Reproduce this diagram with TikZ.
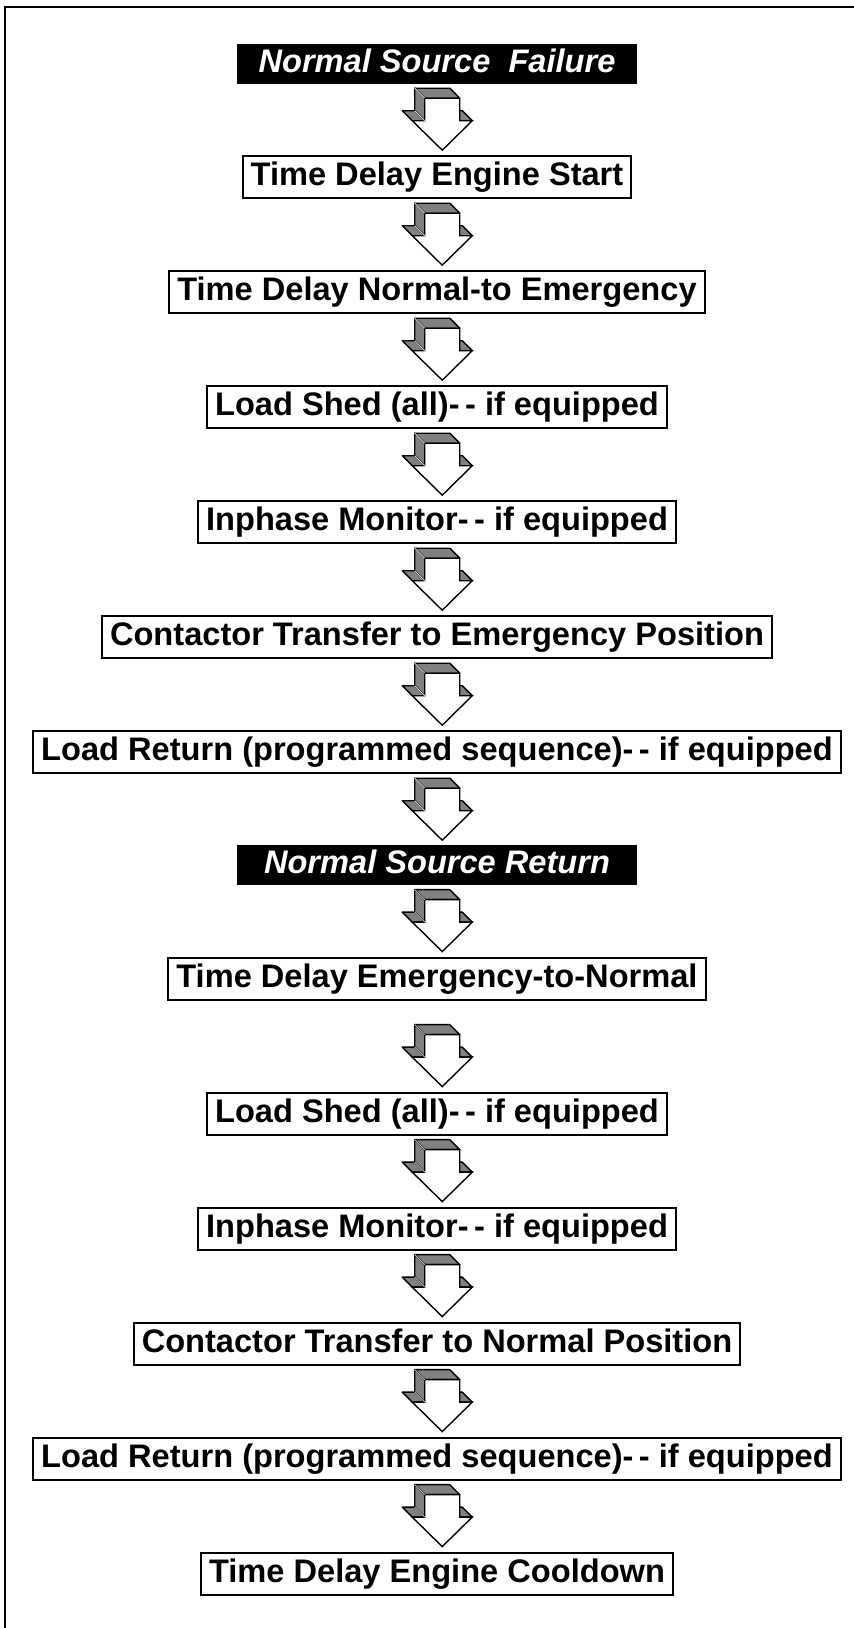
\documentclass[tikz,border=0pt]{standalone}
\usepackage{fontspec}
\setmainfont{Liberation Sans}
\usetikzlibrary{positioning}
\tikzset{
  arrowside/.style={draw=black,fill=gray,line width=1.4pt,line join=round},
  arrowfront/.style={draw=black,fill=white,line width=1.4pt,line join=miter},
  flowarrow/.pic={
    \draw[arrowside] (-17.5,52) -- (17.5,52) -- (7.5,62) -- (-27.5,62) -- cycle;
    \draw[arrowside] (-17.5,52) -- (-17.5,29.5) -- (-27.5,39.5) -- (-27.5,62) -- cycle;
    \draw[arrowside] (-17.5,29.5) -- (-30,29.5) -- (-40,39.5) -- (-27.5,39.5) -- cycle;
    \draw[arrowside] (17.5,29.5) -- (30,29.5) -- (20,39.5) -- (7.5,39.5) -- cycle;
    \draw[arrowfront] (-17.5,52) -- (17.5,52) -- (17.5,29.5) -- (30,29.5) -- (0,0)
      -- (-30,29.5) -- (-17.5,29.5) -- cycle;
    \draw[gray!25,line width=0.8pt] (-17.5,52) -- (-27.5,62) (-17.5,29.5) -- (-27.5,39.5);
  }
}
\begin{document}
\begin{tikzpicture}[x=1pt,y=1pt,
  node distance=71pt,
  every node/.style={font=\fontsize{32.6}{36}\selectfont\bfseries},
  stage/.style={draw,line width=2pt,inner xsep=8pt,inner ysep=3pt,
    minimum height=42pt,text height=24pt,text depth=7pt},
  event/.style={fill=black,text=white,font=\fontsize{32.6}{36}\selectfont\bfseries\itshape,
    minimum width=400pt,minimum height=40pt,inner ysep=3pt,text height=24pt,text depth=7pt}]
\useasboundingbox (0,0) rectangle (854,-1628);
% outer frame (open at right and bottom)
\draw[line width=2.5pt] (5,-1628) -- (5,-7) -- (854,-7);
% failure sequence
\node[event] (b1) at (437,-64) {Normal Source~ Failure};
\node[stage,below=of b1] (b2) {Time Delay Engine Start};
\node[stage,below=of b2] (b3) {Time Delay Normal-to Emergency};
\node[stage,below=of b3] (b4) {Load Shed (all)-\,- if equipped};
\node[stage,below=of b4] (b5) {Inphase Monitor-\,- if equipped};
\node[stage,below=of b5] (b6) {Contactor Transfer to Emergency Position};
\node[stage,below=of b6] (b7) {Load Return (programmed sequence)-\,- if equipped};
% return sequence
\node[event,below=of b7] (b8) {Normal Source Return};
\node[stage,below=of b8] (b9) {Time Delay Emergency-to-Normal};
\node[stage,below=91pt of b9] (b10) {Load Shed (all)-\,- if equipped};
\node[stage,below=of b10] (b11) {Inphase Monitor-\,- if equipped};
\node[stage,below=of b11] (b12) {Contactor Transfer to Normal Position};
\node[stage,below=of b12] (b13) {Load Return (programmed sequence)-\,- if equipped};
\node[stage,below=of b13] (b14) {Time Delay Engine Cooldown};
% block arrows
\foreach \n in {2,...,14}
  \path (b\n.north) ++(5.25,5) pic{flowarrow};
\end{tikzpicture}
\end{document}
